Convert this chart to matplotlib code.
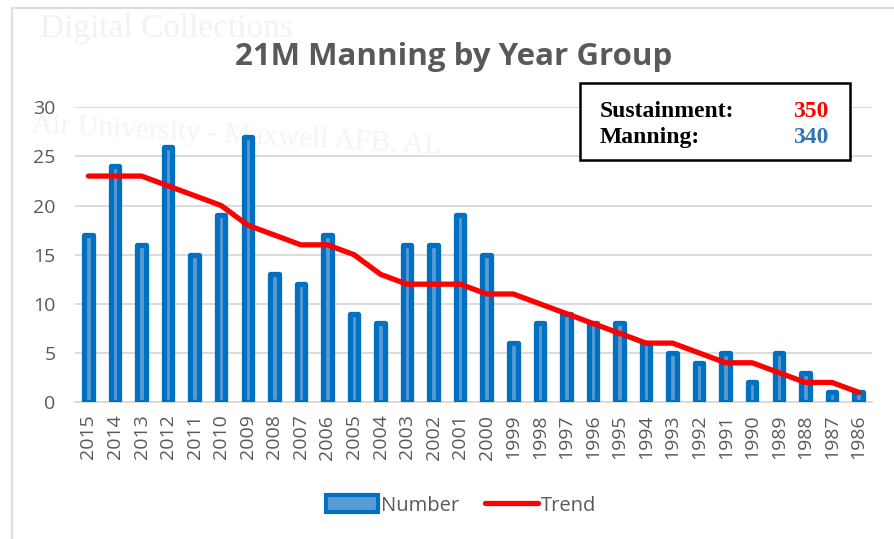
import numpy as np
import matplotlib
matplotlib.use('Agg')
import matplotlib.pyplot as plt
from matplotlib.patches import Patch, Rectangle
from matplotlib.lines import Line2D

# Year groups and values
years = ["2015", "2014", "2013", "2012", "2011", "2010", "2009", "2008", "2007", "2006",
         "2005", "2004", "2003", "2002", "2001", "2000", "1999", "1998", "1997", "1996",
         "1995", "1994", "1993", "1992", "1991", "1990", "1989", "1988", "1987", "1986"]
number = [17, 24, 16, 26, 15, 19, 27, 13, 12, 17,
          9, 8, 16, 16, 19, 15, 6, 8, 9, 8,
          8, 6, 5, 4, 5, 2, 5, 3, 1, 1]
trend = [23, 23, 23, 22, 21, 20, 18, 17, 16, 16,
         15, 13, 12, 12, 12, 11, 11, 10, 9, 8,
         7, 6, 6, 5, 4, 4, 3, 2, 2, 1]
yticks = [0, 5, 10, 15, 20, 25, 30]
sustainment = 350
manning = 340

BAR_EDGE = '#0070c0'
BAR_FILL = '#5b9bd5'
RED = '#ff0000'
GREY_TXT = '#595959'

plt.rcParams['font.family'] = ['Open Sans', 'DejaVu Sans']

fig = plt.figure(figsize=(8.95, 5.39), dpi=100)

# faint watermark / frame
fig.text(0.045, 0.975, 'Digital Collections', family='Liberation Serif', fontsize=24,
         color='#f2f2f2', va='top', ha='left', zorder=-1)
fig.text(0.035, 0.748, 'Air University - Maxwell AFB, AL', family='Liberation Serif',
         fontsize=21, color='#f4f4f4', rotation=-3, va='center', ha='left', zorder=-1)
fig.add_artist(Line2D([0.013, 0.013], [0.0, 0.985], color='#dddddd', lw=1.5))
fig.add_artist(Line2D([0.013, 1.0], [0.985, 0.985], color='#dddddd', lw=1.5))

ax = fig.add_axes([0.084, 0.254, 0.890, 0.547])
ax.patch.set_alpha(0)
x = np.arange(len(years))

ax.bar(x, number, width=0.32, color=BAR_FILL, edgecolor=BAR_EDGE, linewidth=3.8,
       joinstyle='round', zorder=3)
ax.plot(x, trend, color=RED, linewidth=3.8, solid_capstyle='round',
        solid_joinstyle='round', zorder=4)

ax.set_xlim(-0.5, len(years) - 0.5)
ax.set_ylim(0, 30)
ax.set_yticks(yticks)
ax.set_xticks(x)
ax.set_xticklabels(years, rotation=90)
ax.tick_params(axis='both', length=0, labelsize=14, colors=GREY_TXT)
ax.tick_params(axis='y', pad=14)
ax.tick_params(axis='x', pad=9)
ax.grid(axis='y', color='#d9d9d9', linewidth=1.3, zorder=0)
ax.set_axisbelow(True)
for s in ['top', 'right', 'left']:
    ax.spines[s].set_visible(False)
ax.spines['bottom'].set_color('#d9d9d9')
ax.spines['bottom'].set_linewidth(1.3)

fig.text(0.507, 0.895, '21M Manning by Year Group', ha='center', va='center',
         fontsize=22.5, fontweight='bold', color=GREY_TXT)

# summary box
fig.add_artist(Rectangle((0.648, 0.703), 0.302, 0.143, transform=fig.transFigure,
                         facecolor='white', edgecolor='black', linewidth=1.8, zorder=5))
fig.text(0.670, 0.793, 'Sustainment:', family='Liberation Serif', fontweight='bold',
         fontsize=17, va='center', ha='left', zorder=6)
fig.text(0.926, 0.793, str(sustainment), family='Liberation Serif', fontweight='bold',
         fontsize=17, va='center', ha='right', color=RED, zorder=6)
fig.text(0.670, 0.745, 'Manning:', family='Liberation Serif', fontweight='bold',
         fontsize=17, va='center', ha='left', zorder=6)
fig.text(0.926, 0.745, str(manning), family='Liberation Serif', fontweight='bold',
         fontsize=17, va='center', ha='right', color='#2e75b6', zorder=6)

handles = [Patch(facecolor=BAR_FILL, edgecolor=BAR_EDGE, linewidth=3, label='Number'),
           Line2D([0], [0], color=RED, linewidth=3.8, solid_capstyle='round', label='Trend')]
fig.legend(handles=handles, loc='center', bbox_to_anchor=(0.515, 0.062), ncol=2,
           frameon=False, fontsize=14.5, labelcolor=GREY_TXT, handlelength=2.6,
           handleheight=0.9, handletextpad=0.15, columnspacing=1.3)

plt.savefig('out.png', dpi=100)
